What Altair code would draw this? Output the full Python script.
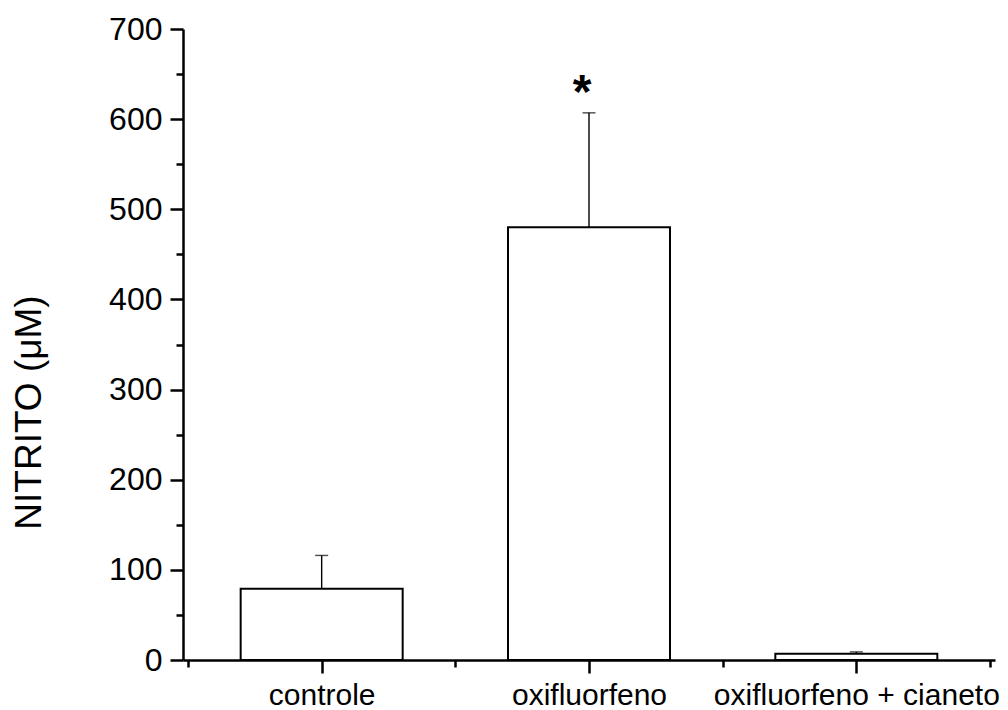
import json
import altair as alt
import pandas as pd

categories = ["controle", "oxifluorfeno", "oxifluorfeno + cianeto"]
means = [79, 480, 7]
errors = [37, 127, 2]
significance = ["", "*", ""]

y_major = [0, 100, 200, 300, 400, 500, 600, 700]
y_minor = [50, 150, 250, 350, 450, 550, 650]

df = pd.DataFrame({
    "categoria": categories,
    "pos": list(range(1, len(categories) + 1)),
    "media": means,
    "erro": errors,
    "sig": significance,
})
df["topo"] = df["media"] + df["erro"]

FONT = "Liberation Sans"
x_scale = alt.Scale(domain=[0.5, len(categories) + 0.5], nice=False, zero=False)
y_scale = alt.Scale(domain=[0, 700], nice=False)

label_expr = f"{json.dumps(categories)}[round(datum.value) - 1]"

x_major_axis = alt.Axis(
    orient="bottom", values=[1, 2, 3], tickSize=13, labelExpr=label_expr,
    labelPadding=7, labelFontSize=30, labelOverlap=False, labelFlush=False,
    labelLimit=600, title=None, grid=False, domain=True,
)
x_minor_axis = alt.Axis(
    orient="bottom", values=[0.5, 1.5, 2.5, 3.5], tickSize=7, labels=False,
    title=None, grid=False, domain=False,
)
y_major_axis = alt.Axis(
    orient="left", values=y_major, tickSize=13, labelPadding=8, labelFontSize=32,
    title="NITRITO (μM)", titleFontSize=37, titleFontWeight="normal",
    titleAngle=-90, titleAlign="center", titleBaseline="middle",
    titleX=-154, titleY=383, grid=False, domain=True, labelFlush=False,
)
y_minor_axis = alt.Axis(
    orient="left", values=y_minor, tickSize=7, labels=False, title=None,
    grid=False, domain=False,
)

base = alt.Chart(df)

bars = base.mark_bar(
    orient="vertical", size=162, fill="white", stroke="black", strokeWidth=2
).encode(
    x=alt.X("pos:Q", scale=x_scale, axis=x_major_axis),
    y=alt.Y("media:Q", scale=y_scale, axis=y_major_axis),
)

minor = base.mark_point(opacity=0).encode(
    x=alt.X("pos:Q", scale=x_scale, axis=x_minor_axis),
    y=alt.Y("media:Q", scale=y_scale, axis=y_minor_axis),
)

err_line = base.mark_rule(color="black", strokeWidth=1.4).encode(
    x=alt.X("pos:Q", scale=x_scale, axis=None),
    y=alt.Y("media:Q", scale=y_scale, axis=None),
    y2="topo:Q",
)

err_cap = base.mark_tick(
    orient="horizontal", size=13, thickness=1.4, color="black"
).encode(
    x=alt.X("pos:Q", scale=x_scale, axis=None),
    y=alt.Y("topo:Q", scale=y_scale, axis=None),
)

star = base.mark_text(
    font=FONT, fontSize=48, fontWeight="bold", color="black",
    baseline="alphabetic", dy=-5, dx=-7,
).encode(
    x=alt.X("pos:Q", scale=x_scale, axis=None),
    y=alt.Y("topo:Q", scale=y_scale, axis=None),
    text="sig:N",
)

chart = alt.layer(minor, bars, err_line, err_cap, star).resolve_axis(
    x="independent", y="independent"
).properties(
    width=812, height=631,
    background="white",
    autosize=alt.AutoSizeParams(type="none"),
    padding={"left": 183, "top": 29, "right": 13, "bottom": 50},
).configure_view(stroke=None).configure_axis(
    domainColor="black", domainWidth=2.5, tickColor="black", tickWidth=2.5,
    labelColor="black", titleColor="black", labelFont=FONT, titleFont=FONT,
)

chart.save("out.html", embed_options={"renderer": "svg", "actions": False})
